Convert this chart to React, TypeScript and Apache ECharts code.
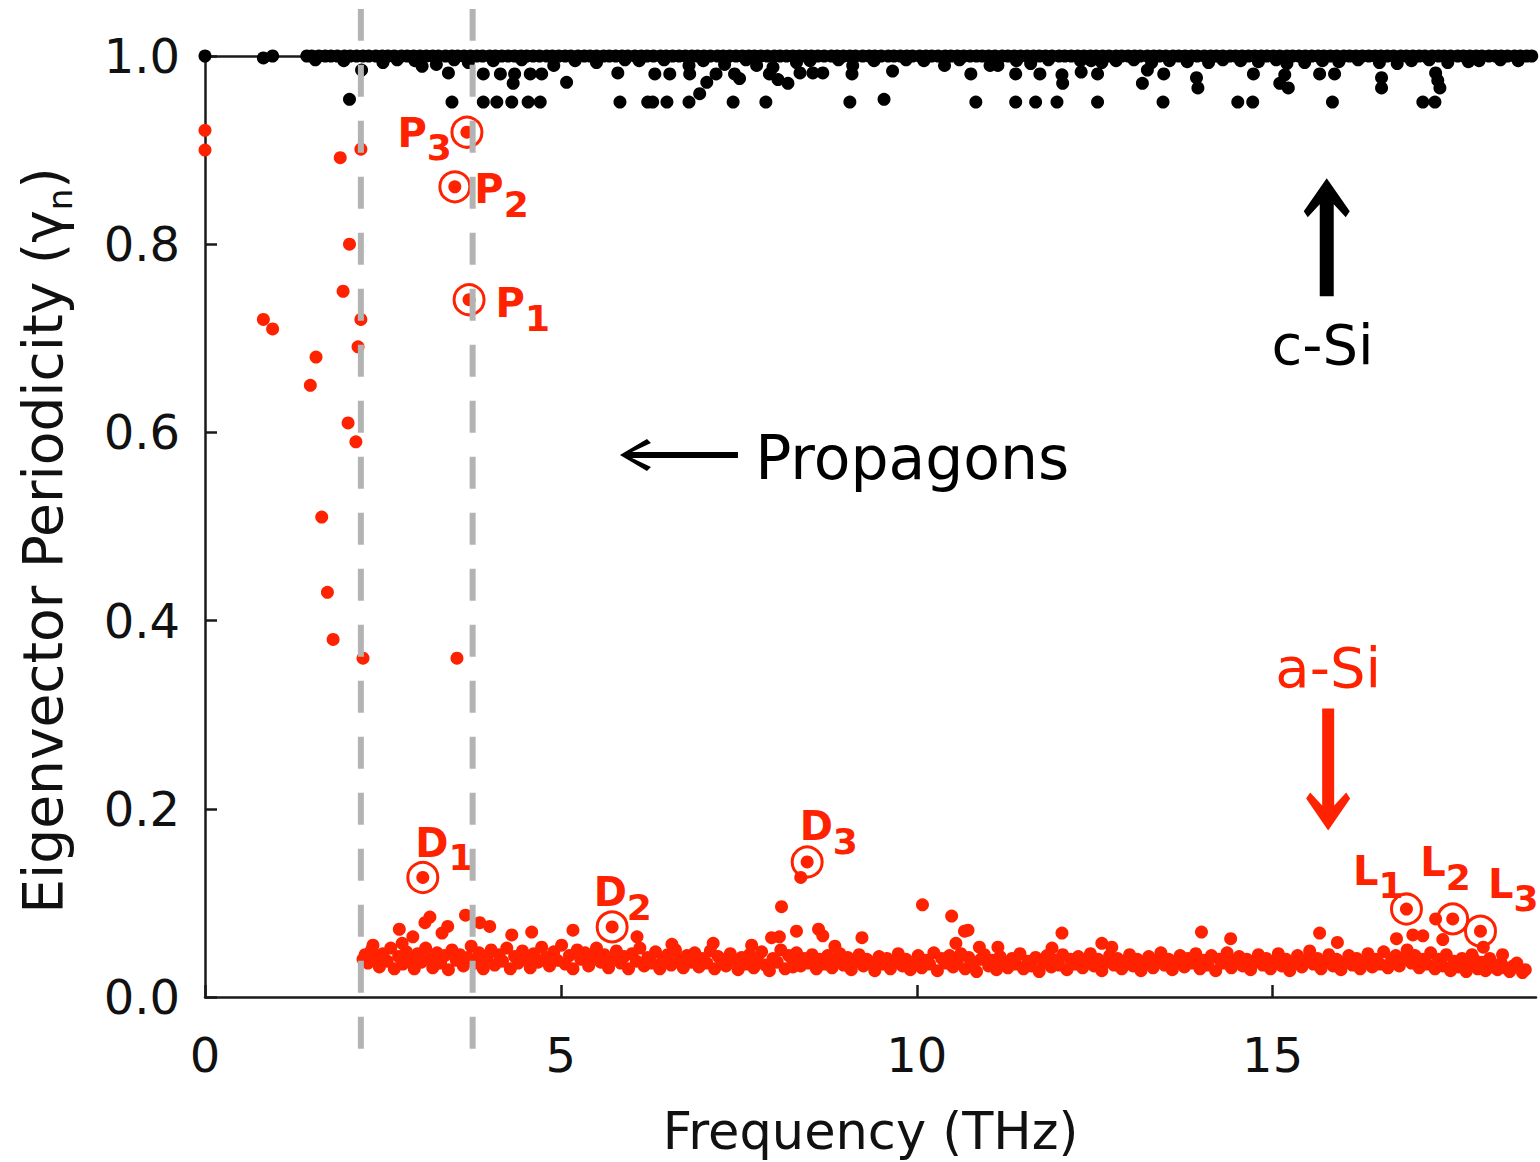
import React, { useEffect, useRef } from 'react';
import * as echarts from 'echarts';

const RED = '#ff2200';
const FONT = '"DejaVu Sans", sans-serif';

const xTickValues = [0, 5, 10, 15];
const yTickValues = [0, 0.2, 0.4, 0.6, 0.8, 1.0];
const xMax = 18.7;
const dashedLineFreqs = [2.19, 3.76];
const dashedLineSpan = [-0.055, 1.05];

// c-Si modes sitting at periodicity 1.0
const cSiTopRow = [
  0, 0.95, 1.43, 1.5, 1.6, 1.69, 1.77, 1.86, 1.96, 2.04, 2.13, 2.22, 2.3, 2.4, 2.49, 2.57, 2.66, 2.76, 2.84, 2.93,
  3.02, 3.11, 3.2, 3.28, 3.38, 3.47, 3.55, 3.64, 3.73, 3.82, 3.9, 4.0, 4.08, 4.17, 4.26, 4.35, 4.44, 4.52, 4.61, 4.7,
  4.8, 4.88, 4.97, 5.06, 5.14, 5.24, 5.33, 5.41, 5.5, 5.6, 5.68, 5.77, 5.86, 5.94, 6.04, 6.13, 6.21, 6.3, 6.4, 6.48,
  6.57, 6.66, 6.75, 6.84, 6.92, 7.01, 7.1, 7.2, 7.28, 7.37, 7.46, 7.55, 7.64, 7.72, 7.81, 7.9, 8.0, 8.08, 8.17, 8.26,
  8.35, 8.44, 8.52, 8.61, 8.7, 8.8, 8.88, 8.97, 9.06, 9.14, 9.24, 9.33, 9.41, 9.5, 9.6, 9.68, 9.77, 9.86, 9.94, 10.04,
  10.13, 10.21, 10.3, 10.4, 10.48, 10.57, 10.66, 10.75, 10.84, 10.92, 11.01, 11.1, 11.2, 11.28, 11.37, 11.46, 11.55,
  11.64, 11.72, 11.81, 11.9, 12.0, 12.08, 12.17, 12.26, 12.35, 12.44, 12.52, 12.61, 12.7, 12.8, 12.88, 12.97, 13.06,
  13.14, 13.24, 13.33, 13.41, 13.5, 13.6, 13.68, 13.77, 13.86, 13.94, 14.04, 14.13, 14.21, 14.3, 14.4, 14.48, 14.57,
  14.66, 14.75, 14.84, 14.92, 15.01, 15.1, 15.2, 15.28, 15.37, 15.46, 15.55, 15.64, 15.72, 15.81, 15.9, 16.0, 16.08,
  16.17, 16.26, 16.35, 16.44, 16.52, 16.61, 16.7, 16.8, 16.88, 16.97, 17.06, 17.14, 17.24, 17.33, 17.41, 17.5, 17.6,
  17.68, 17.77, 17.86, 17.94, 18.04, 18.13, 18.21, 18.3, 18.4, 18.48, 18.57, 18.64,
];

// c-Si modes just below 1.0
const cSiNearTop: [number, number][] = [
  [0.82, 0.998], [2.2, 0.985], [2.5, 0.993], [3.05, 0.989], [3.25, 0.991], [3.7, 0.993], [4.9, 0.99], [5.5, 0.993],
  [6.8, 0.99], [7.3, 0.991], [7.75, 0.99], [7.98, 0.988], [8.31, 0.993], [9.1, 0.99], [10.39, 0.99], [11.03, 0.99],
  [11.14, 0.99], [11.6, 0.992], [12.3, 0.995], [12.6, 0.993], [12.8, 0.995], [13.3, 0.993], [13.8, 0.994],
  [14.1, 0.993], [14.8, 0.994], [15.2, 0.992], [15.45, 0.993], [15.93, 0.994], [16.5, 0.993], [16.75, 0.992],
  [17.46, 0.993], [17.75, 0.994], [1.55, 0.996], [1.95, 0.995], [2.7, 0.996], [2.95, 0.995], [3.5, 0.996],
  [4.05, 0.995], [4.45, 0.996], [5.2, 0.995], [5.9, 0.996], [6.1, 0.995], [6.45, 0.996], [7.0, 0.995], [7.6, 0.996],
  [8.5, 0.995], [8.9, 0.996], [9.4, 0.995], [9.85, 0.996], [10.1, 0.995], [10.6, 0.996], [11.4, 0.995],
  [11.85, 0.996], [12.45, 0.995], [13.05, 0.996], [13.55, 0.995], [14.3, 0.996], [14.55, 0.995], [15.05, 0.996],
  [15.7, 0.995], [16.2, 0.996], [16.95, 0.995], [17.2, 0.996], [17.9, 0.995], [18.2, 0.996], [18.45, 0.995],
];

// c-Si modes in the 0.95 - 0.985 rows
const cSiLower: [number, number][] = [
  [2.03, 0.954], [3.42, 0.982], [3.47, 0.951], [3.91, 0.981], [4.15, 0.981], [4.35, 0.981], [4.57, 0.981],
  [4.73, 0.981], [4.33, 0.971], [3.91, 0.951], [4.1, 0.951], [4.31, 0.951], [4.54, 0.951], [4.71, 0.951],
  [5.08, 0.972], [5.8, 0.982], [5.83, 0.951], [6.22, 0.951], [6.32, 0.981], [6.53, 0.981], [6.81, 0.981],
  [6.95, 0.96], [7.05, 0.972], [7.18, 0.981], [7.44, 0.981], [7.51, 0.976], [7.93, 0.981], [8.05, 0.975],
  [8.19, 0.971], [8.36, 0.982], [8.54, 0.982], [8.68, 0.982], [9.09, 0.981], [9.66, 0.984], [6.29, 0.951],
  [6.49, 0.951], [6.8, 0.951], [7.42, 0.951], [7.88, 0.951], [9.06, 0.951], [9.54, 0.954], [10.83, 0.951],
  [11.39, 0.951], [11.67, 0.951], [11.97, 0.951], [10.76, 0.981], [11.39, 0.981], [11.73, 0.981], [12.04, 0.98],
  [12.05, 0.971], [12.31, 0.983], [12.54, 0.981], [13.17, 0.971], [13.24, 0.985], [13.47, 0.981], [13.93, 0.977],
  [13.95, 0.966], [14.73, 0.981], [15.1, 0.971], [15.17, 0.98], [15.22, 0.966], [15.66, 0.981], [15.87, 0.981],
  [16.53, 0.977], [16.53, 0.966], [17.29, 0.982], [17.32, 0.974], [17.35, 0.966], [12.54, 0.951], [13.46, 0.951],
  [14.51, 0.951], [14.72, 0.951], [15.84, 0.951], [17.11, 0.951], [17.28, 0.951],
];

// a-Si low-frequency scattered modes
const aSiSparse: [number, number][] = [
  [0, 0.921], [0, 0.9], [0.82, 0.72], [0.95, 0.71], [1.48, 0.65], [1.56, 0.68], [1.64, 0.51], [1.72, 0.43],
  [1.8, 0.38], [1.9, 0.892], [1.94, 0.75], [2.01, 0.61], [2.03, 0.8], [2.12, 0.59], [2.15, 0.691], [2.19, 0.72],
  [2.19, 0.901], [2.22, 0.36], [3.54, 0.36],
];

// a-Si modes standing above the main band
const aSiRaised: [number, number][] = [
  [2.73, 0.072], [2.92, 0.064], [3.09, 0.079], [3.16, 0.085], [3.33, 0.068], [3.41, 0.075], [3.66, 0.087],
  [2.77, 0.057], [2.36, 0.055], [3.86, 0.079], [4.0, 0.075], [4.31, 0.066], [4.59, 0.069], [5.17, 0.071],
  [6.07, 0.064], [8.1, 0.096], [7.96, 0.063], [8.07, 0.064], [6.56, 0.056], [7.14, 0.057], [7.68, 0.055],
  [8.37, 0.127], [10.08, 0.098], [10.49, 0.086], [10.67, 0.07], [10.72, 0.071], [10.55, 0.057], [12.04, 0.068],
  [11.9, 0.052], [8.31, 0.07], [8.62, 0.072], [8.68, 0.065], [9.23, 0.063], [8.85, 0.054], [8.26, 0.032],
  [10.88, 0.053], [11.14, 0.053], [12.6, 0.057], [12.74, 0.053], [14.0, 0.069], [14.41, 0.062], [15.66, 0.068],
  [15.91, 0.058], [16.74, 0.062], [16.97, 0.066], [17.11, 0.065], [17.29, 0.083], [17.39, 0.061], [18.23, 0.045],
  [17.96, 0.053], [18.09, 0.032], [18.43, 0.036], [18.55, 0.029], [18.51, 0.026], [17.8, 0.045], [17.67, 0.036],
];

// a-Si main low-periodicity band
const aSiBand: [number, number][] = [
  [2.22, 0.04], [2.25, 0.045], [2.29, 0.036], [2.34, 0.05], [2.4, 0.041], [2.45, 0.032], [2.5, 0.046], [2.56, 0.038],
  [2.61, 0.052], [2.66, 0.03], [2.72, 0.043], [2.78, 0.035], [2.83, 0.048], [2.88, 0.039], [2.94, 0.03], [2.99, 0.046],
  [3.04, 0.037], [3.1, 0.052], [3.15, 0.041], [3.2, 0.031], [3.26, 0.047], [3.31, 0.036], [3.37, 0.044], [3.42, 0.029],
  [3.47, 0.05], [3.53, 0.039], [3.58, 0.045], [3.63, 0.033], [3.69, 0.042], [3.74, 0.054], [3.8, 0.036], [3.85, 0.047],
  [3.91, 0.03], [3.96, 0.041], [4.02, 0.05], [4.07, 0.034], [4.13, 0.045], [4.18, 0.038], [4.24, 0.052], [4.29, 0.03],
  [4.35, 0.043], [4.4, 0.036], [4.46, 0.049], [4.51, 0.04], [4.57, 0.031], [4.62, 0.046], [4.68, 0.037], [4.73, 0.053],
  [4.79, 0.042], [4.84, 0.033], [4.9, 0.048], [4.95, 0.039], [5.01, 0.055], [5.06, 0.035], [5.12, 0.044], [5.17, 0.03],
  [5.23, 0.05], [5.28, 0.04], [5.34, 0.047], [5.39, 0.033], [5.45, 0.042], [5.5, 0.052], [5.56, 0.037], [5.61, 0.045],
  [5.67, 0.031], [5.73, 0.04], [5.78, 0.049], [5.84, 0.036], [5.89, 0.043], [5.95, 0.03], [6.0, 0.046], [6.06, 0.038],
  [6.11, 0.052], [6.17, 0.033], [6.22, 0.042], [6.28, 0.036], [6.33, 0.048], [6.39, 0.03], [6.44, 0.04], [6.5, 0.045],
  [6.55, 0.034], [6.61, 0.05], [6.66, 0.039], [6.72, 0.031], [6.77, 0.044], [6.83, 0.037], [6.88, 0.047], [6.94, 0.032],
  [6.99, 0.041], [7.05, 0.036], [7.1, 0.049], [7.16, 0.03], [7.21, 0.043], [7.27, 0.038], [7.32, 0.033], [7.38, 0.046],
  [7.43, 0.039], [7.49, 0.029], [7.54, 0.042], [7.6, 0.035], [7.65, 0.045], [7.71, 0.031], [7.76, 0.04], [7.82, 0.048],
  [7.87, 0.034], [7.93, 0.028], [7.98, 0.041], [8.04, 0.037], [8.09, 0.05], [8.15, 0.03], [8.2, 0.044], [8.26, 0.039],
  [8.31, 0.047], [8.37, 0.033], [8.42, 0.041], [8.48, 0.036], [8.53, 0.045], [8.59, 0.03], [8.64, 0.04], [8.7, 0.035],
  [8.75, 0.044], [8.81, 0.031], [8.86, 0.039], [8.92, 0.046], [8.97, 0.034], [9.03, 0.042], [9.08, 0.029], [9.14, 0.038],
  [9.19, 0.045], [9.25, 0.033], [9.3, 0.04], [9.36, 0.036], [9.41, 0.028], [9.47, 0.043], [9.52, 0.035], [9.58, 0.041],
  [9.63, 0.03], [9.69, 0.038], [9.74, 0.046], [9.8, 0.033], [9.85, 0.04], [9.91, 0.029], [9.96, 0.037], [10.02, 0.044],
  [10.07, 0.031], [10.13, 0.039], [10.18, 0.035], [10.24, 0.047], [10.29, 0.028], [10.35, 0.041], [10.4, 0.036],
  [10.46, 0.044], [10.51, 0.032], [10.57, 0.039], [10.62, 0.046], [10.68, 0.03], [10.73, 0.042], [10.79, 0.035],
  [10.84, 0.027], [10.9, 0.04], [10.95, 0.045], [11.01, 0.033], [11.06, 0.039], [11.12, 0.029], [11.17, 0.043],
  [11.23, 0.036], [11.28, 0.031], [11.34, 0.041], [11.39, 0.035], [11.45, 0.046], [11.5, 0.03], [11.56, 0.038],
  [11.61, 0.033], [11.67, 0.042], [11.72, 0.027], [11.78, 0.037], [11.83, 0.044], [11.89, 0.032], [11.94, 0.039],
  [12.0, 0.034], [12.05, 0.045], [12.11, 0.029], [12.16, 0.04], [12.22, 0.035], [12.27, 0.043], [12.33, 0.031],
  [12.38, 0.038], [12.44, 0.046], [12.49, 0.033], [12.55, 0.04], [12.6, 0.028], [12.66, 0.037], [12.71, 0.044],
  [12.77, 0.034], [12.82, 0.041], [12.88, 0.03], [12.93, 0.038], [12.99, 0.045], [13.04, 0.033], [13.1, 0.04],
  [13.15, 0.028], [13.21, 0.036], [13.26, 0.043], [13.32, 0.031], [13.37, 0.039], [13.43, 0.047], [13.48, 0.034],
  [13.54, 0.04], [13.59, 0.029], [13.65, 0.037], [13.7, 0.044], [13.76, 0.032], [13.81, 0.041], [13.87, 0.036],
  [13.92, 0.046], [13.98, 0.03], [14.03, 0.039], [14.09, 0.034], [14.14, 0.044], [14.2, 0.028], [14.25, 0.04],
  [14.31, 0.036], [14.36, 0.047], [14.42, 0.031], [14.47, 0.038], [14.53, 0.043], [14.58, 0.033], [14.64, 0.04],
  [14.69, 0.029], [14.75, 0.037], [14.8, 0.045], [14.86, 0.034], [14.91, 0.041], [14.97, 0.03], [15.02, 0.038],
  [15.08, 0.046], [15.13, 0.033], [15.19, 0.04], [15.24, 0.028], [15.3, 0.037], [15.35, 0.044], [15.41, 0.032],
  [15.46, 0.039], [15.52, 0.049], [15.57, 0.035], [15.63, 0.041], [15.68, 0.03], [15.74, 0.038], [15.79, 0.045],
  [15.85, 0.033], [15.9, 0.04], [15.96, 0.029], [16.01, 0.037], [16.07, 0.044], [16.12, 0.034], [16.18, 0.041],
  [16.23, 0.03], [16.29, 0.038], [16.34, 0.046], [16.4, 0.032], [16.45, 0.04], [16.51, 0.035], [16.56, 0.048],
  [16.62, 0.031], [16.67, 0.039], [16.73, 0.044], [16.78, 0.033], [16.84, 0.041], [16.89, 0.05], [16.95, 0.036],
  [17.0, 0.044], [17.06, 0.031], [17.11, 0.04], [17.17, 0.035], [17.22, 0.047], [17.28, 0.03], [17.33, 0.04],
  [17.39, 0.033], [17.44, 0.045], [17.5, 0.028], [17.55, 0.038], [17.61, 0.032], [17.66, 0.041], [17.72, 0.027],
  [17.77, 0.035], [17.83, 0.04], [17.88, 0.03], [17.94, 0.037], [17.99, 0.028], [18.05, 0.041], [18.1, 0.034],
  [18.16, 0.029], [18.21, 0.036], [18.27, 0.031], [18.33, 0.027], [18.38, 0.033],
];

// annotated modes
const markedNames = ['P3', 'P2', 'P1', 'D1', 'D2', 'D3', 'L1', 'L2', 'L3'];
const markedPoints: [number, number][] = [
  [3.68, 0.919], [3.51, 0.861], [3.71, 0.741], [3.06, 0.127], [5.72, 0.0745], [8.46, 0.1435],
  [16.88, 0.0935], [17.53, 0.083], [17.92, 0.07],
];

// label placement (px, relative to ring box top-left)
const markedLabelOffsets: Record<string, [number, number]> = {
  P3: [-53, -3], P2: [36, -1], P1: [43, 0], D1: [9, -38], D2: [-2, -38], D3: [9, -39],
  L1: [-37, -42], L2: [-16, -60], L3: [24, -51],
};

// annotation anchors in data units
const cSiArrowTip: [number, number] = [15.76, 0.870];
const cSiTextAt: [number, number] = [15.7, 0.693];
const aSiArrowTip: [number, number] = [15.78, 0.177];
const aSiTextAt: [number, number] = [15.78, 0.35];
const propArrowTip: [number, number] = [5.83, 0.576];
const propTextAt: [number, number] = [7.73, 0.573];

export default function App() {
  const ref = useRef<HTMLDivElement>(null);
  useEffect(() => {
    if (!ref.current) return;
    const chart = echarts.init(ref.current, undefined, { renderer: 'svg' });
    const axisLine = { show: true, lineStyle: { color: '#1a1a1a', width: 2.5 } };
    const option: any = {
      animation: false,
      backgroundColor: '#fff',
      grid: { left: 205, right: 4, top: 56, bottom: 165, containLabel: false },
      xAxis: [
        {
          type: 'value', min: 0, max: xMax, interval: 5, position: 'bottom',
          axisLine,
          axisTick: { show: true, inside: true, length: 12, lineStyle: { color: '#1a1a1a', width: 2.5 }, customValues: xTickValues },
          axisLabel: { fontFamily: FONT, fontSize: 48, color: '#111', margin: 34, customValues: xTickValues },
          splitLine: { show: false },
          name: 'Frequency (THz)', nameLocation: 'middle', nameGap: 109,
          nameTextStyle: { fontFamily: FONT, fontSize: 51, color: '#111' },
        },
        {
          type: 'value', min: 0, max: xMax, position: 'top',
          axisLine, axisTick: { show: false }, axisLabel: { show: false }, splitLine: { show: false },
        },
      ],
      yAxis: {
        type: 'value', min: 0, max: 1, interval: 0.2,
        axisLine,
        axisTick: { show: true, inside: true, length: 12, lineStyle: { color: '#1a1a1a', width: 2.5 }, customValues: yTickValues },
        axisLabel: {
          fontFamily: FONT, fontSize: 48, color: '#111', margin: 25, customValues: yTickValues,
          formatter: (v: number) => v.toFixed(1),
        },
        splitLine: { show: false },
        name: '{a|Eigenvector Periodicity (}{a|γ}{s|n}{a|)}',
        nameLocation: 'middle', nameRotate: 90, nameGap: 128,
        nameTextStyle: {
          fontFamily: FONT, fontSize: 55, color: '#111', padding: [0, 28, 0, 0],
          rich: {
            a: { fontFamily: FONT, fontSize: 55, color: '#111', lineHeight: 60, verticalAlign: 'top' },
            s: { fontFamily: FONT, fontSize: 34, color: '#111', lineHeight: 62, verticalAlign: 'bottom' },
          },
        },
      },
      series: [
        {
          type: 'scatter', name: 'a-Si', xAxisIndex: 0, yAxisIndex: 0, symbolSize: 13,
          itemStyle: { color: RED, opacity: 1 },
          data: [...aSiBand, ...aSiRaised, ...aSiSparse, ...markedPoints],
          z: 2,
        },
        {
          type: 'scatter', name: 'c-Si', xAxisIndex: 0, yAxisIndex: 0, symbolSize: 13,
          itemStyle: { color: '#000', opacity: 1 },
          data: [...cSiTopRow.map((f) => [f, 1.0]), ...cSiNearTop, ...cSiLower],
          z: 2,
        },
        {
          type: 'scatter', name: 'marked', xAxisIndex: 0, yAxisIndex: 0, symbol: 'circle', symbolSize: 30,
          itemStyle: { color: 'rgba(0,0,0,0)', borderColor: RED, borderWidth: 3, opacity: 1 },
          z: 3,
          data: markedPoints.map((p, i) => ({
            value: p,
            name: markedNames[i],
            label: {
              show: true,
              position: markedLabelOffsets[markedNames[i]],
              align: 'left', verticalAlign: 'top',
              formatter: (prm: any) => `{m|${prm.name[0]}}{s|${prm.name.slice(1)}}`,
              rich: {
                m: { fontFamily: FONT, fontWeight: 'bold', fontSize: 40, color: RED, lineHeight: 40, verticalAlign: 'top' },
                s: { fontFamily: FONT, fontWeight: 'bold', fontSize: 36, color: RED, lineHeight: 53, verticalAlign: 'bottom' },
              },
            },
          })),
        },
        ...dashedLineFreqs.map((f) => ({
          type: 'line', xAxisIndex: 0, yAxisIndex: 0, clip: false, symbol: 'none', silent: true, z: 10,
          lineStyle: { color: '#b3b3b3', width: 6, type: [32, 24] },
          data: [[f, dashedLineSpan[0]], [f, dashedLineSpan[1]]],
        })),
      ],
    };
    chart.setOption(option);

    const px = (p: [number, number]) => chart.convertToPixel({ seriesIndex: 0 }, p) as number[];
    const shift = (tip: number[], pts: number[][]) => pts.map(([dx, dy]) => [tip[0] + dx, tip[1] + dy]);
    const up = px(cSiArrowTip);
    const down = px(aSiArrowTip);
    const left = px(propArrowTip);
    const cText = px(cSiTextAt);
    const aText = px(aSiTextAt);
    const pText = px(propTextAt);
    chart.setOption({
      graphic: [
        {
          type: 'polygon', silent: true, z: 20,
          shape: { points: shift(up, [[0, 0], [23, 33], [19, 39], [7, 26], [7, 118], [-7, 118], [-7, 26], [-19, 39], [-23, 33]]) },
          style: { fill: '#000' },
        },
        {
          type: 'polygon', silent: true, z: 20,
          shape: { points: shift(down, [[0, 0], [22, -32], [18, -38], [6, -25], [6, -122], [-6, -122], [-6, -25], [-18, -38], [-22, -32]]) },
          style: { fill: RED },
        },
        {
          type: 'polygon', silent: true, z: 20,
          shape: { points: shift(left, [[0, 0], [27, -16], [31, -12], [12, -3], [118, -3], [118, 3], [12, 3], [31, 12], [27, 16]]) },
          style: { fill: '#000' },
        },
        {
          type: 'text', silent: true, z: 20, x: cText[0], y: cText[1],
          style: { text: 'c-Si', fontFamily: FONT, fontSize: 56, fill: '#000', align: 'center', verticalAlign: 'middle' },
        },
        {
          type: 'text', silent: true, z: 20, x: aText[0], y: aText[1],
          style: { text: 'a-Si', fontFamily: FONT, fontSize: 56, fill: RED, align: 'center', verticalAlign: 'middle' },
        },
        {
          type: 'text', silent: true, z: 20, x: pText[0], y: pText[1],
          style: { text: 'Propagons', fontFamily: FONT, fontSize: 60, fill: '#000', align: 'left', verticalAlign: 'middle' },
        },
      ],
    });
    return () => chart.dispose();
  }, []);
  return <div ref={ref} style={{ position: 'absolute', left: 0, top: 0, width: 1540, height: 1162 }} />;
}
